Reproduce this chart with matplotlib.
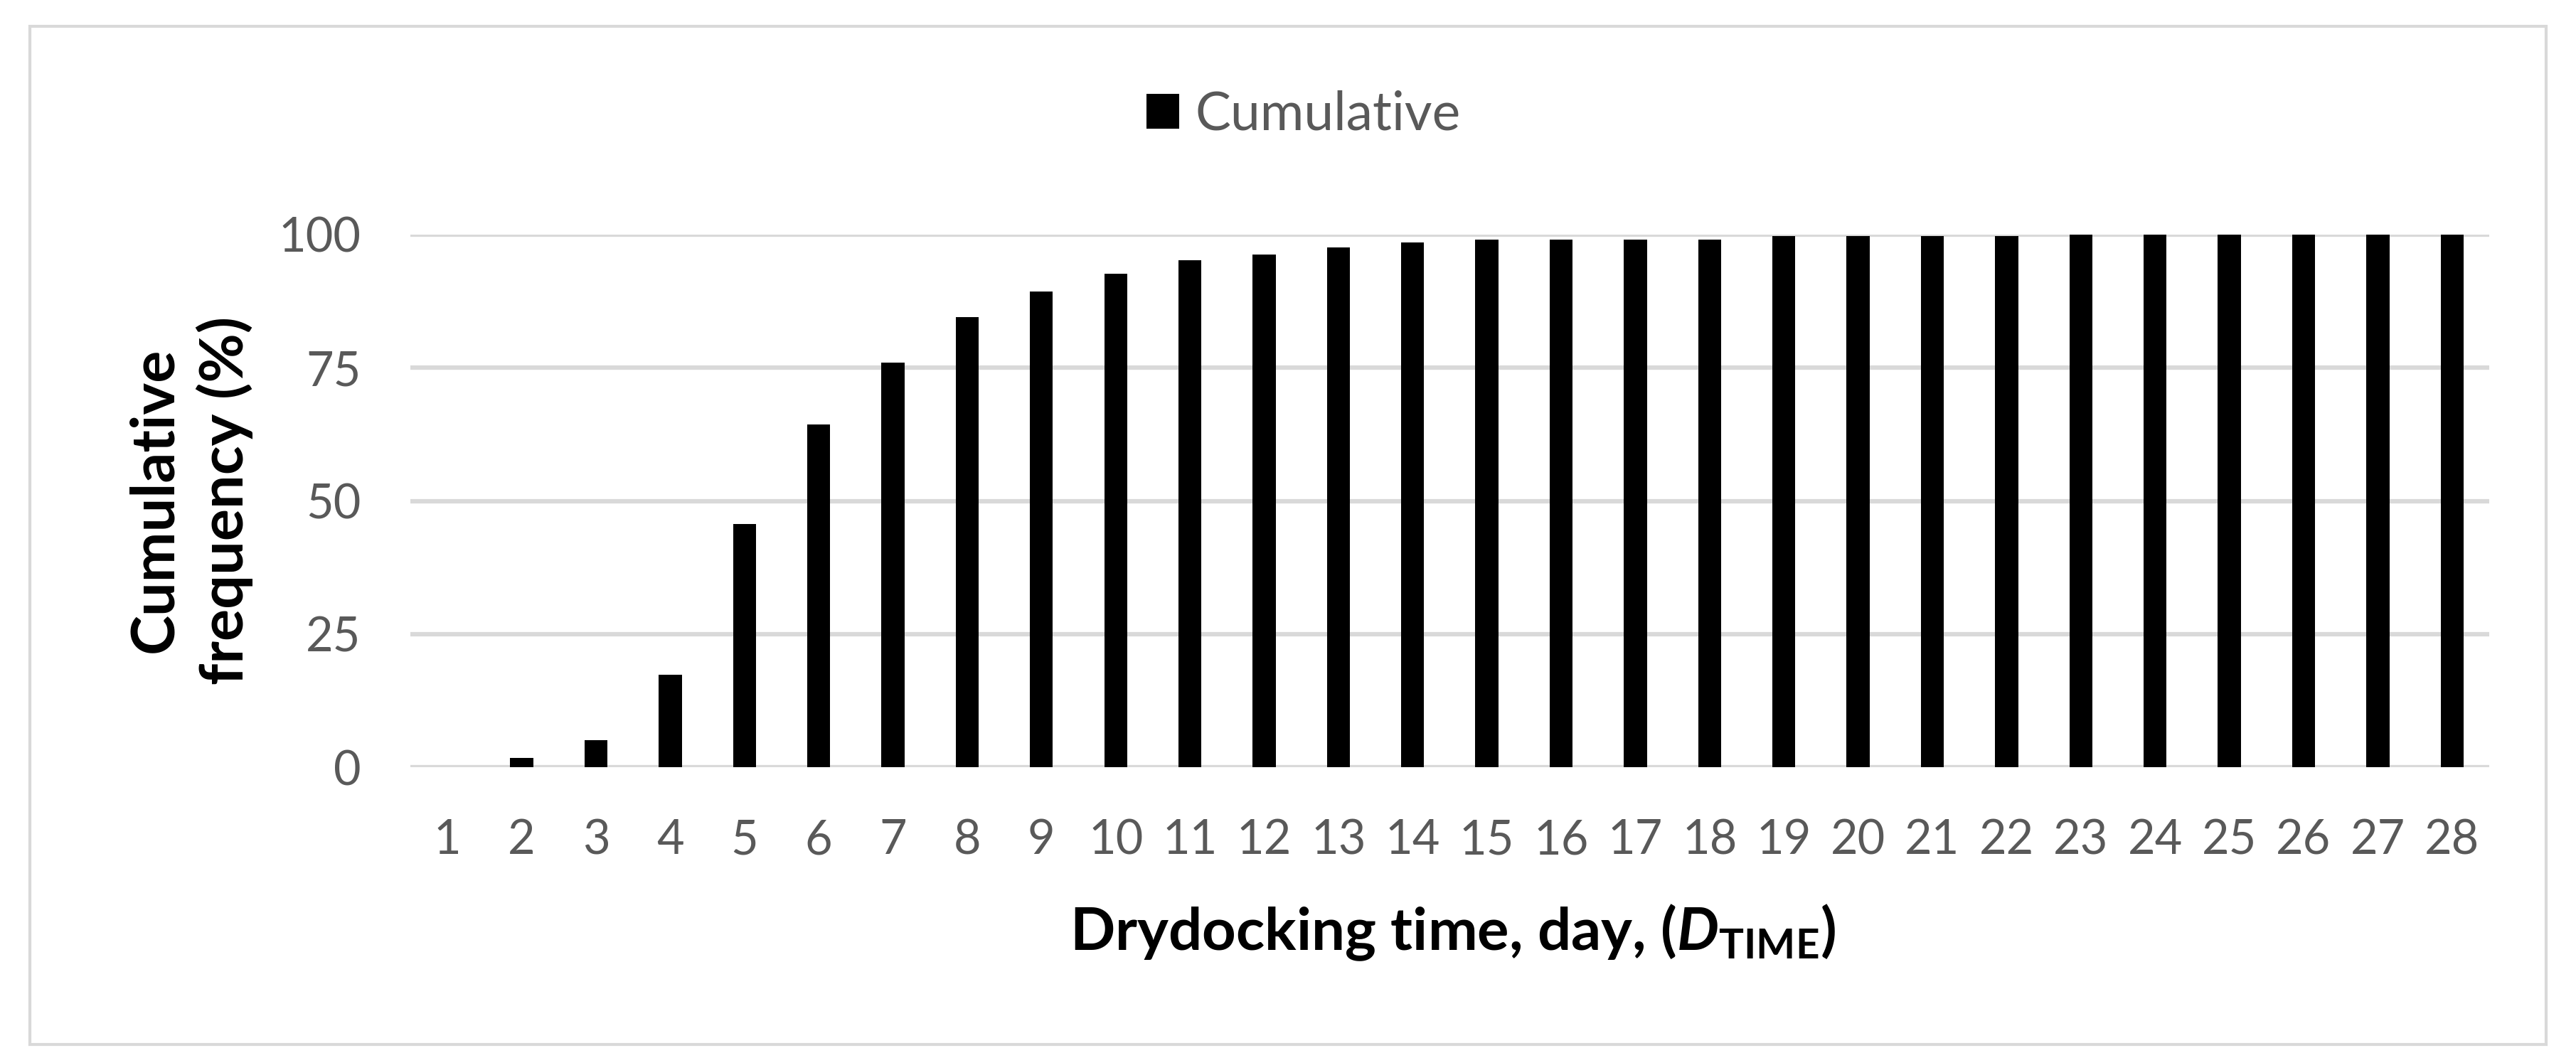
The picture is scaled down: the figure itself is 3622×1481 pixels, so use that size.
import matplotlib
matplotlib.use("Agg")
import matplotlib.pyplot as plt
from matplotlib.patches import Rectangle

# cumulative frequency (%) per drydocking day
days = list(range(1, 29))
cumulative = [0.0, 1.7, 5.1, 17.3, 45.6, 64.3, 76.0, 84.5, 89.3, 92.6,
              95.2, 96.3, 97.6, 98.5, 99.1, 99.1, 99.1, 99.1, 99.7, 99.7,
              99.7, 99.7, 100, 100, 100, 100, 100, 100]
y_ticks = [0, 25, 50, 75, 100]

plt.rcParams["font.family"] = ["Lato", "DejaVu Sans"]
plt.rcParams["mathtext.fontset"] = "custom"
plt.rcParams["mathtext.rm"] = "Lato:bold"
plt.rcParams["mathtext.it"] = "Lato:bold:italic"

GRAY = "#595959"
GRID = "#d9d9d9"

fig = plt.figure(figsize=(36.22, 14.81), dpi=100)
ax = fig.add_axes([0.1593, 0.2714, 0.8070, 0.5058])

bars = ax.bar(days, cumulative, width=0.31, color="black", label="Cumulative", zorder=3)

ax.set_xlim(0.5, 28.5)
ax.set_ylim(0, 100)
ax.set_xticks(days)
ax.set_xticklabels([str(d) for d in days])
ax.set_yticks(y_ticks)
ax.yaxis.grid(True, color=GRID, linewidth=4.5)
ax.set_axisbelow(True)
for s in ax.spines.values():
    s.set_visible(False)
ax.tick_params(axis="x", length=0, pad=52, labelsize=48, labelcolor=GRAY)
ax.tick_params(axis="y", length=0, pad=50, labelsize=48, labelcolor=GRAY)

# axis titles
fig.text(0.0739, 0.525, "Cumulative\nfrequency (%)", rotation=90, ha="center", va="center",
         fontsize=61, fontweight="bold", multialignment="center", linespacing=1.3)
fig.text(0.564, 0.114, r"Drydocking time, day, ($\mathit{D}_{\mathrm{TIME}}$)",
         ha="center", va="center", fontsize=60, fontweight="bold")

fig.legend(handles=[bars], loc="center", bbox_to_anchor=(0.506, 0.891), frameon=False,
           fontsize=54, labelcolor=GRAY, handlelength=0.62, handleheight=0.62,
           handletextpad=0.3, borderpad=0)

# light outer frame
fig.patches.append(Rectangle((42 / 3622, 12 / 1481), (3580 - 42) / 3622, (1469 - 37) / 1481,
                             transform=fig.transFigure, fill=False, edgecolor=GRID, linewidth=3))

fig.savefig("out.png", dpi=100)
